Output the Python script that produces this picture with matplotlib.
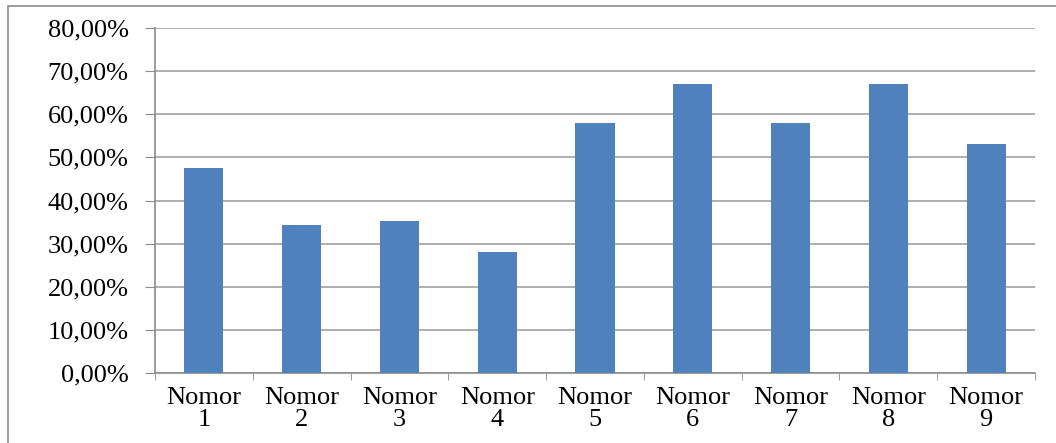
import numpy as np
import matplotlib.pyplot as plt
from matplotlib.patches import Rectangle
from matplotlib.ticker import FuncFormatter, FixedLocator

# Data
categories = ['Nomor\n1', 'Nomor\n2', 'Nomor\n3', 'Nomor\n4', 'Nomor\n5',
              'Nomor\n6', 'Nomor\n7', 'Nomor\n8', 'Nomor\n9']
values = [47.6, 34.3, 35.2, 28.1, 57.9, 67.1, 57.9, 67.1, 53.0]

plt.rcParams['font.family'] = ['Liberation Serif', 'DejaVu Serif']

fig = plt.figure(figsize=(10.56, 4.43), dpi=100)
ax = fig.add_axes([155 / 1056, 1 - 373 / 443, 880 / 1056, 345 / 443])

# outer frame
fig.patches.append(Rectangle((8 / 1056, -0.1), 1.2, 1 - 6 / 443 + 0.1,
                             transform=fig.transFigure, fill=False,
                             edgecolor='#8c8c8c', linewidth=1.2))

x = np.arange(len(categories))
ax.bar(x, values, width=0.4, color='#4F81BD', zorder=3)

ax.set_xlim(-0.5, len(categories) - 0.5)
ax.set_ylim(0, 80)
ax.set_yticks(np.arange(0, 81, 10))
ax.yaxis.set_major_formatter(FuncFormatter(lambda v, p: f'{v:.2f}%'.replace('.', ',')))

ax.set_xticks(x)
ax.set_xticklabels(categories, fontsize=19, linespacing=1.02)
ax.tick_params(axis='x', length=0, pad=10)
ax.xaxis.set_minor_locator(FixedLocator(np.arange(-0.5, len(categories), 1)))
ax.tick_params(axis='x', which='minor', length=5, direction='out', color='#8c8c8c')
ax.tick_params(axis='y', length=7, direction='out', color='#8c8c8c', labelsize=19, pad=12)

ax.grid(axis='y', color='#a0a0a0', linewidth=1.2, zorder=0)
for s in ['top', 'right']:
    ax.spines[s].set_visible(False)
for s in ['left', 'bottom']:
    ax.spines[s].set_color('#8c8c8c')
    ax.spines[s].set_linewidth(1.2)

fig.savefig('out.png', dpi=100)
